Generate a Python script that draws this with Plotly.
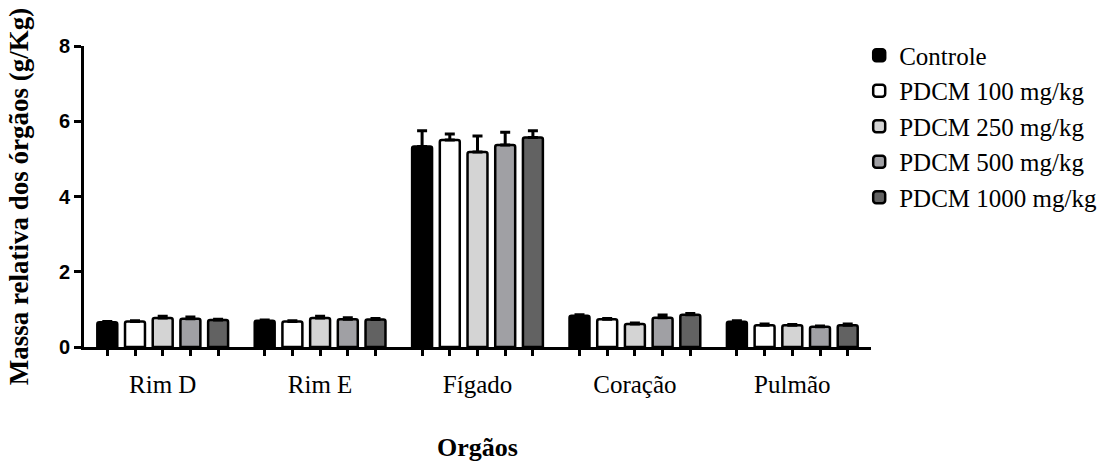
import plotly.graph_objects as go

categories = ["Rim D", "Rim E", "Fígado", "Coração", "Pulmão"]
series_names = ["Controle", "PDCM 100 mg/kg", "PDCM 250 mg/kg", "PDCM 500 mg/kg", "PDCM 1000 mg/kg"]

controle = [0.66, 0.70, 5.33, 0.83, 0.67]
pdcm100 = [0.68, 0.68, 5.50, 0.74, 0.58]
pdcm250 = [0.77, 0.77, 5.18, 0.61, 0.58]
pdcm500 = [0.75, 0.74, 5.37, 0.78, 0.54]
pdcm1000 = [0.72, 0.73, 5.57, 0.86, 0.58]

err_controle = [0.02, 0.02, 0.42, 0.03, 0.03]
err_pdcm100 = [0.02, 0.02, 0.16, 0.02, 0.03]
err_pdcm250 = [0.05, 0.05, 0.43, 0.03, 0.02]
err_pdcm500 = [0.05, 0.04, 0.34, 0.07, 0.02]
err_pdcm1000 = [0.02, 0.03, 0.18, 0.03, 0.03]

y_ticks = [0, 2, 4, 6, 8]

values = [controle, pdcm100, pdcm250, pdcm500, pdcm1000]
errors = [err_controle, err_pdcm100, err_pdcm250, err_pdcm500, err_pdcm1000]
colors = ["#000000", "#ffffff", "#d4d4d4", "#a0a0a4", "#626262"]

bargap = 0.12
bargroupgap = 0.28
n = len(series_names)
slot = (1 - bargap) / n

fig = go.Figure()
for k in range(n):
    fig.add_trace(go.Bar(
        name=series_names[k],
        x=categories,
        y=values[k],
        legendgroup=f"g{k}",
        marker=dict(color=colors[k], line=dict(color="#000000", width=2.5), cornerradius=2),
        error_y=dict(type="data", array=errors[k], arrayminus=[0] * len(categories),
                     symmetric=False, color="#000000", thickness=3, width=5),
    ))

# tick positions under each bar (numeric overlay axis)
bar_ticks = [i + (k - (n - 1) / 2) * slot for i in range(len(categories)) for k in range(n)]
fig.add_trace(go.Scatter(
    x=bar_ticks, y=[0] * len(bar_ticks), xaxis="x2", yaxis="y",
    mode="markers", marker=dict(opacity=0, size=1),
    showlegend=False, hoverinfo="skip",
))

fig.update_layout(
    width=1105, height=462,
    margin=dict(l=84, r=234, t=46, b=115, autoexpand=False),
    plot_bgcolor="white", paper_bgcolor="white",
    barmode="group", bargap=bargap, bargroupgap=bargroupgap,
    font=dict(family="Liberation Serif", color="#000000"),
    showlegend=True,
    legend=dict(x=0.985, y=1.045, xanchor="left", yanchor="top",
                font=dict(family="Liberation Serif", size=25, color="#000000"),
                tracegroupgap=0, bgcolor="rgba(0,0,0,0)"),
    xaxis=dict(
        type="category", range=[-0.5, 4.5], automargin=False,
        showline=True, linecolor="#000000", linewidth=3,
        ticks="", showgrid=False, zeroline=False,
        tickfont=dict(family="Liberation Serif", size=25, color="#000000"),
        ticklabelstandoff=13,
        title=dict(text="<b>Orgãos</b>", font=dict(family="Liberation Serif", size=26, color="#000000"),
                   standoff=45),
    ),
    xaxis2=dict(
        overlaying="x", anchor="y", side="bottom", automargin=False,
        range=[-0.5, 4.5], tickvals=bar_ticks, showticklabels=False,
        ticks="outside", ticklen=8, tickwidth=3, tickcolor="#000000",
        showgrid=False, zeroline=False, showline=False,
    ),
    yaxis=dict(
        range=[0, 8], tickvals=y_ticks, automargin=False,
        showline=True, linecolor="#000000", linewidth=3,
        ticks="outside", ticklen=7, tickwidth=3, tickcolor="#000000",
        showgrid=False, zeroline=False,
        tickfont=dict(family="Liberation Sans", size=20, color="#000000", weight="bold"),
        title=dict(text="<b>Massa relativa dos órgãos (g/Kg)</b>",
                   font=dict(family="Liberation Serif", size=27, color="#000000"), standoff=23),
    ),
)

fig.write_html("out.html")
